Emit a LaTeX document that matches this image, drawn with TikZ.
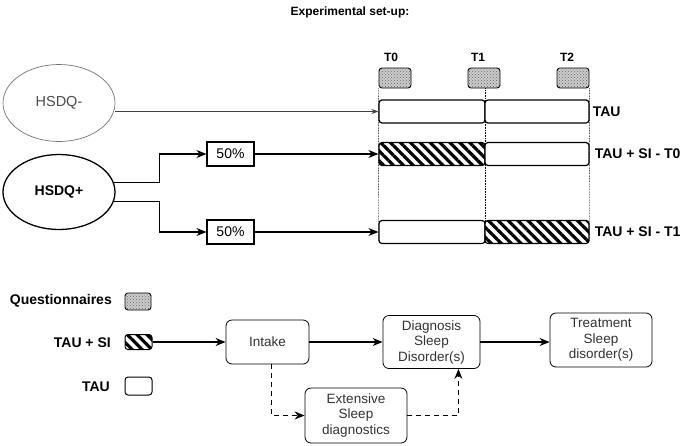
\documentclass[tikz,border=0pt]{standalone}
\usepackage{fontspec}
\setmainfont{Liberation Sans}
\usetikzlibrary{arrows.meta, patterns, patterns.meta, backgrounds, shapes.geometric}

\tikzset{
  phase/.style={draw, line width=1.2pt, rounded corners=3pt, fill=white, inner sep=0pt, minimum height=23},
  hatch/.style={phase, postaction={pattern={Lines[angle=-45, distance=7pt, line width=3.2pt]}}},
  quest/.style={draw, line width=0.9pt, rounded corners=3pt, fill=gray!40, inner sep=0pt,
    postaction={pattern=crosshatch dots, pattern color=black!60}},
  step box/.style={draw, line width=0.8pt, rounded corners=6pt, fill=white, align=center,
    text=black!80, inner sep=0pt, font=\fontsize{13.5}{15.5}\selectfont},
  lbl/.style={font=\bfseries\fontsize{12}{14}\selectfont, inner sep=0pt},
  big lbl/.style={font=\bfseries\fontsize{14}{16}\selectfont, inner sep=0pt},
  arr/.style={-{Stealth[length=10pt, width=8pt]}, line width=1.2pt}
}

\begin{document}
\begin{tikzpicture}[x=1pt, y=-1pt]
\useasboundingbox (0,0) rectangle (685,445);
\node[lbl] (title) at (350,12) {Experimental set-up:};
% Time points
\node[lbl] (T0) at (391,57) {T0};
\node[lbl] (T1) at (478,57) {T1};
\node[lbl] (T2) at (567,57) {T2};
\node[quest, minimum width=32, minimum height=20] (Q0) at (395,78) {};
\node[quest, minimum width=32, minimum height=20] (Q1) at (484,78) {};
\node[quest, minimum width=32, minimum height=20] (Q2) at (573,78) {};
% Groups
\node[draw=black!55, ellipse, line width=0.7pt, minimum width=112, minimum height=77, inner sep=0pt,
  text=black!70, font=\fontsize{14.5}{16}\selectfont] (HSDQm) at (59,103) {HSDQ-};
\node[draw, ellipse, line width=1.3pt, minimum width=112, minimum height=75, inner sep=0pt,
  font=\bfseries\fontsize{14}{16}\selectfont] (HSDQp) at (59,192) {HSDQ+};
\node[draw, line width=1.2pt, minimum width=47, minimum height=24, inner sep=0pt,
  font=\fontsize{14}{16}\selectfont] (P1) at (230.5,154) {50\%};
\node[draw, line width=1.2pt, minimum width=47, minimum height=24, inner sep=0pt,
  font=\fontsize{14}{16}\selectfont] (P2) at (230.5,232) {50\%};
% Arms
\node[phase, minimum width=106] (R1a) at (432,111.5) {};
\node[phase, minimum width=104] (R1b) at (537,111.5) {};
\node[hatch, minimum width=106] (R2a) at (432,154) {};
\node[phase, minimum width=104] (R2b) at (537,154) {};
\node[phase, minimum width=106] (R3a) at (432,232) {};
\node[hatch, minimum width=104] (R3b) at (537,232) {};
\node[big lbl, anchor=west] (L1) at ([xshift=3]R1b.east) {TAU};
\node[big lbl, anchor=west] (L2) at ([xshift=5]R2b.east) {TAU + SI - T0};
\node[big lbl, anchor=west] (L3) at ([xshift=5]R3b.east) {TAU + SI - T1};
\begin{scope}[on background layer]
\draw[densely dotted, line width=0.6pt] (Q0.south west) -- ([yshift=2]R3a.south west);
\draw[densely dotted, line width=0.6pt] (Q1.south -| R1a.east) -- ([yshift=2]R3a.south east);
\draw[densely dotted, line width=0.6pt] (Q2.south east) -- ([yshift=2]R3b.south east);
\end{scope}
\draw[-{Stealth[length=7pt, width=5pt]}, line width=0.7pt, black!75] (HSDQm.east |- R1a.west) -- (R1a.west);
\draw[arr] (HSDQp.10) -- ++(46,0) |- (P1.west);
\draw[arr] (HSDQp.-10) -- ++(46,0) |- (P2.west);
\draw[arr] (P1.east) -- (R2a.west);
\draw[arr] (P2.east) -- (R3a.west);
% Legend
\node[quest, minimum width=26, minimum height=17] (LQ) at (138,301.5) {};
\node[hatch, minimum width=27, minimum height=15, line width=1pt] (LS) at (138.5,342) {};
\node[phase, minimum width=27, minimum height=18, line width=1pt] (LT) at (138.5,386) {};
\node[big lbl, anchor=east] (LQt) at (112,301) {Questionnaires};
\node[big lbl, anchor=east] (LSt) at (111,343) {TAU + SI};
\node[big lbl, anchor=east] (LTt) at (110,387) {TAU};
% Care pathway
\node[step box, minimum width=83, minimum height=44] (Intake) at (267.5,342) {Intake};
\node[step box, minimum width=97, minimum height=53] (Diag) at (431.5,342) {Diagnosis\\Sleep\\Disorder(s)};
\node[step box, minimum width=102, minimum height=54] (Treat) at (601,340) {Treatment\\Sleep\\disorder(s)};
\node[step box, minimum width=102, minimum height=55] (Ext) at (356,415.5) {Extensive\\Sleep\\diagnostics};
\draw[arr] (LS.east) -- (Intake.west);
\draw[arr] (Intake.east) -- (Diag.west);
\draw[arr] (Diag.east) -- (Diag.east -| Treat.west);
\draw[arr, dash pattern=on 5pt off 4pt] ([xshift=4]Intake.south) |- (Ext.west);
\draw[arr, dash pattern=on 5pt off 4pt] (Ext.east) -| (Diag.-45);
\end{tikzpicture}
\end{document}
